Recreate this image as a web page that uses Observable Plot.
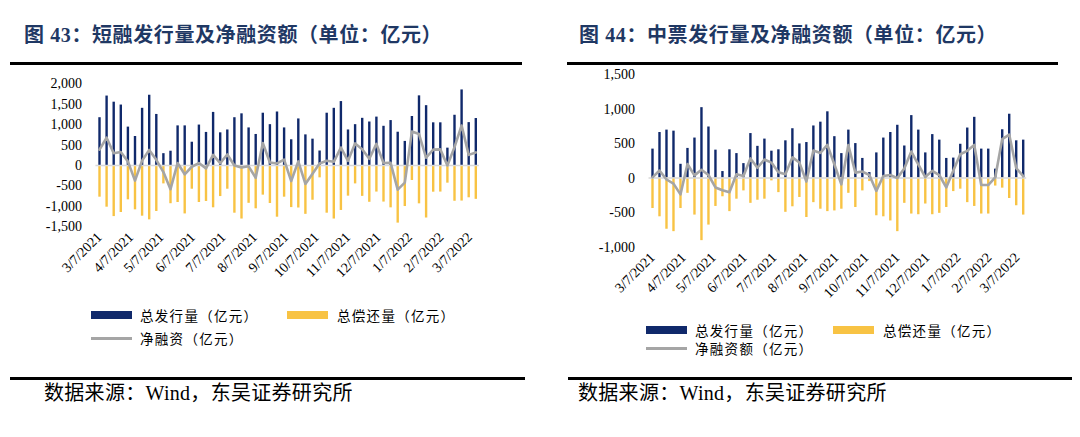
<!DOCTYPE html>
<html><head><meta charset="utf-8">
<script src="https://cdn.jsdelivr.net/npm/d3@7"></script>
<script src="https://cdn.jsdelivr.net/npm/@observablehq/plot@0.6"></script>
<style>
body{margin:0;background:#fff;}
#page{position:relative;width:1080px;height:437px;overflow:hidden;background:#fff;}
.title{position:absolute;top:25px;line-height:20px;font-size:20px;font-weight:bold;color:#1f3864;letter-spacing:0.6px;white-space:nowrap;font-family:"Liberation Serif","Noto Sans CJK SC",serif;}
.rule{position:absolute;height:3px;background:#000;}
.src{position:absolute;top:382px;line-height:22px;font-size:20px;color:#000;white-space:nowrap;letter-spacing:0.3px;font-family:"Liberation Serif","Noto Sans CJK SC",serif;}
.plot{position:absolute;top:64px;}
.leg{position:absolute;font-size:13.5px;line-height:16px;color:#000;white-space:nowrap;font-family:"Noto Sans CJK SC",sans-serif;letter-spacing:1.3px;}
.sw{position:absolute;width:41px;height:8px;}
.ln{position:absolute;width:41px;height:3px;background:#a5a5a5;}
</style></head>
<body><div id="page"></div>
<script>
// ---- data ----
const tickLabels = ["3/7/2021","4/7/2021","5/7/2021","6/7/2021","7/7/2021","8/7/2021","9/7/2021","10/7/2021","11/7/2021","12/7/2021","1/7/2022","2/7/2022","3/7/2022"];
const firstWeek = "3/7/2021";
const weekCount = 54;

const cpIssue = [1170,1700,1550,1480,940,710,1400,1720,1250,290,350,970,970,570,990,810,1300,800,870,1170,1265,920,760,1280,1000,1310,920,630,1140,750,645,355,1280,1400,1565,870,1000,1155,1065,1185,960,1100,815,590,1200,1705,1465,1045,1045,425,1230,1850,1050,1150];
const cpRepay = [-775,-1020,-1250,-1150,-840,-1085,-1240,-1330,-1125,-450,-935,-905,-1185,-580,-905,-880,-1035,-760,-580,-1167,-1310,-925,-1060,-725,-930,-1265,-775,-1030,-1040,-1195,-850,-302,-1167,-1310,-1100,-750,-450,-755,-900,-650,-895,-1036,-1410,-1004,-367,-938,-1285,-653,-650,-432,-875,-870,-790,-828];
const cpNet = [390,680,300,330,100,-370,120,380,140,-160,-580,60,-215,-30,60,-70,260,60,270,0,-50,-20,-300,550,75,50,145,-380,100,-450,-200,50,115,90,440,115,540,400,165,530,60,65,-590,-420,830,770,190,390,395,0,450,980,260,320];

const mtnIssue = [420,660,695,680,200,430,580,1020,740,405,95,410,355,210,645,460,565,390,410,540,715,495,515,755,810,960,600,355,695,500,285,80,365,580,660,765,465,905,695,365,630,550,285,290,490,725,880,420,420,130,700,925,540,550];
const mtnRepay = [-440,-560,-740,-775,-440,-220,-535,-905,-680,-410,-270,-485,-305,-185,-365,-320,-305,-40,-210,-495,-415,-280,-570,-355,-450,-485,-475,-450,-220,-425,-185,-50,-545,-560,-620,-775,-365,-520,-530,-375,-530,-510,-425,-195,-160,-355,-410,-520,-520,-115,-145,-295,-400,-535];
const mtnNet = [10,110,-20,-80,-235,205,40,120,45,-135,-175,-205,55,30,285,150,270,225,85,55,300,225,-50,400,365,480,200,-90,480,80,95,45,-185,30,45,0,140,385,200,15,105,45,-135,105,345,395,480,-100,-100,10,565,630,145,30];

const yTicksLeft = [-1500,-1000,-500,0,500,1000,1500,2000];
const yTicksRight = [-1000,-500,0,500,1000,1500];

const titles = ["图 43：短融发行量及净融资额（单位：亿元）","图 44：中票发行量及净融资额（单位：亿元）"];
const legendIssue = "总发行量（亿元）";
const legendRepay = "总偿还量（亿元）";
const legendNet = ["净融资（亿元）","净融资额（亿元）"];
const source = "数据来源：Wind，东吴证券研究所";

// ---- helpers ----
const NAVY = "#10296b", GOLD = "#f8c344", GRAY = "#a5a5a5";
const parse = s => { const [m,d,y] = s.split("/").map(Number); return new Date(Date.UTC(y, m-1, d)); };
const tickDates = tickLabels.map(parse);
const labelMap = new Map(tickDates.map((d,i)=>[+d, tickLabels[i]]));
const start = parse(firstWeek);
const weeks = d3.range(weekCount).map(i => d3.utcDay.offset(start, 7*i));
const xDomain = [d3.utcHour.offset(weeks[0], -84), d3.utcHour.offset(weeks[weeks.length-1], 84)];
const fmtY = d => (d < 0 ? "-" : "") + d3.format(",")(Math.abs(d));

function panel(issue, repay, net, yDomain, yTicks, m) {
  const data = weeks.map((date,i)=>({date, issue: issue[i], repay: repay[i], net: net[i]}));
  return Plot.plot({
    width: 540, height: 240,
    marginLeft: m.l, marginRight: m.r, marginTop: m.t, marginBottom: m.b,
    style: {fontFamily: "Liberation Serif", fontSize: "14px", color: "#000", background: "transparent", overflow: "visible"},
    x: {type: "utc", domain: xDomain, ticks: tickDates, tickFormat: d => labelMap.get(+d), tickRotate: -45, tickSize: 0, tickPadding: 8, label: null},
    y: {domain: yDomain, ticks: yTicks, tickFormat: fmtY, tickSize: 0, tickPadding: 14, label: null},
    marks: [
      Plot.ruleX(data, {x: "date", y1: 0, y2: "issue", stroke: NAVY, strokeWidth: 2.4}),
      Plot.ruleX(data, {x: "date", y1: 0, y2: "repay", stroke: GOLD, strokeWidth: 2.4}),
      Plot.ruleY([0], {stroke: "#d9d9d9", strokeWidth: 1.5}),
      Plot.line(data, {x: "date", y: "net", stroke: GRAY, strokeWidth: 2.6, strokeLinejoin: "round"})
    ]
  });
}

const page = document.getElementById("page");
function add(html){ const t = document.createElement("div"); t.innerHTML = html; const el = t.firstChild; page.appendChild(el); return el; }

const P = [
  {title: 24, topRule: [10, 522], botRule: [10, 525], src: 44,
   sw: 91, t1: 140, sw2: 287, t2: 337, row1: 315, row2: 338},
  {title: 579, topRule: [567, 1058], botRule: [568, 1072], src: 578,
   sw: 646, t1: 695, sw2: 833, t2: 883, row1: 330, row2: 348}
];
P.forEach((p, k) => {
  add(`<div class="title" style="left:${p.title}px">${titles[k]}</div>`);
  add(`<div class="rule" style="left:${p.topRule[0]}px;width:${p.topRule[1]-p.topRule[0]}px;top:62px"></div>`);
  add(`<div class="rule" style="left:${p.botRule[0]}px;width:${p.botRule[1]-p.botRule[0]}px;top:377px"></div>`);
  add(`<div class="src" style="left:${p.src}px">${source}</div>`);
  add(`<div class="sw" style="left:${p.sw}px;top:${p.row1-4}px;background:${NAVY}"></div>`);
  add(`<div class="leg" style="left:${p.t1}px;top:${p.row1-8}px">${legendIssue}</div>`);
  add(`<div class="sw" style="left:${p.sw2}px;top:${p.row1-4}px;background:${GOLD}"></div>`);
  add(`<div class="leg" style="left:${p.t2}px;top:${p.row1-8}px">${legendRepay}</div>`);
  add(`<div class="ln" style="left:${p.sw}px;top:${p.row2-1.5}px"></div>`);
  add(`<div class="leg" style="left:${p.t1}px;top:${p.row2-8}px">${legendNet[k]}</div>`);
});

const left = panel(cpIssue, cpRepay, cpNet, [-1500, 2000], yTicksLeft, {l: 95.45, r: 61.15, t: 19.3, b: 77.7});
left.style.position = "absolute"; left.style.left = "0px"; left.style.top = "64px";
page.appendChild(left);
const right = panel(mtnIssue, mtnRepay, mtnNet, [-1000, 1500], yTicksRight, {l: 108.5, r: 53.8, t: 10, b: 57.3});
right.style.position = "absolute"; right.style.left = "540px"; right.style.top = "64px";
page.appendChild(right);
</script>
</body></html>
